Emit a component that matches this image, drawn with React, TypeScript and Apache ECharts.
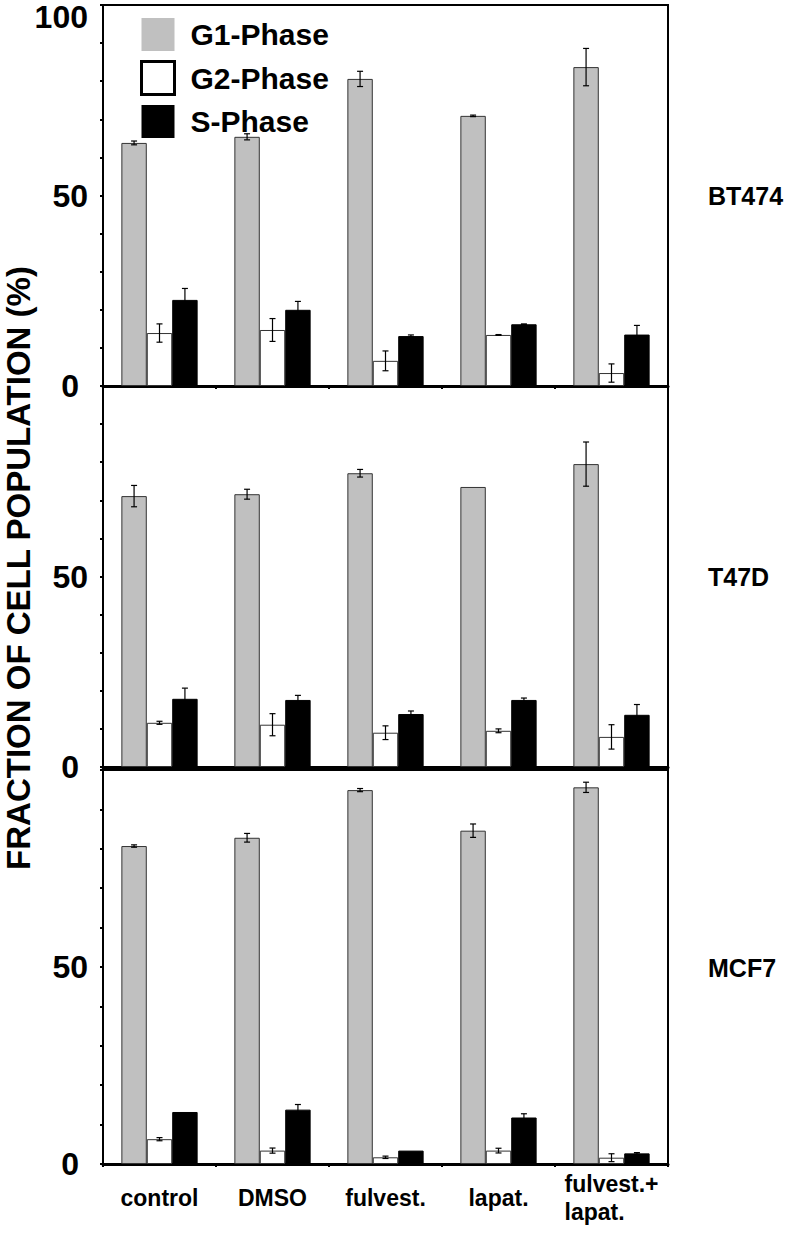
import React, { useEffect, useRef } from "react";
import * as echarts from "echarts";

const categories = ["control", "DMSO", "fulvest.", "lapat.", "fulvest.+\nlapat."];
const cellLines = ["BT474", "T47D", "MCF7"];
const phaseNames = ["G1-Phase", "G2-Phase", "S-Phase"];
const yTickLabels = [0, 50];
const topTickLabel = "100";

// BT474
const bt474G1 = [63.8, 65.4, 80.6, 70.9, 83.7];
const bt474G1Err = [0.5, 0.8, 2.0, 0.2, 4.9];
const bt474G2 = [13.9, 14.7, 6.6, 13.4, 3.4];
const bt474G2Err = [2.4, 3.0, 2.6, 0.1, 2.4];
const bt474S = [22.6, 20.0, 13.1, 16.2, 13.5];
const bt474SErr = [3.0, 2.2, 0.3, 0.1, 2.4];

// T47D
const t47dG1 = [71.1, 71.6, 77.1, 73.5, 79.5];
const t47dG1Err = [2.8, 1.3, 1.0, 0, 5.8];
const t47dG2 = [11.6, 11.1, 9.0, 9.5, 7.9];
const t47dG2Err = [0.4, 2.9, 1.8, 0.5, 3.2];
const t47dS = [17.9, 17.6, 13.9, 17.6, 13.7];
const t47dSErr = [2.8, 1.2, 0.8, 0.5, 2.7];

// MCF7
const mcf7G1 = [80.7, 82.8, 94.9, 84.6, 95.6];
const mcf7G1Err = [0.3, 1.1, 0.4, 1.7, 1.3];
const mcf7G2 = [6.3, 3.4, 1.7, 3.4, 1.6];
const mcf7G2Err = [0.4, 0.65, 0.3, 0.6, 1.0];
const mcf7S = [13.2, 13.8, 3.4, 11.8, 2.7];
const mcf7SErr = [0, 1.3, 0, 0.95, 0.2];

const panels = [
  { values: [bt474G1, bt474G2, bt474S], errors: [bt474G1Err, bt474G2Err, bt474SErr] },
  { values: [t47dG1, t47dG2, t47dS], errors: [t47dG1Err, t47dG2Err, t47dSErr] },
  { values: [mcf7G1, mcf7G2, mcf7S], errors: [mcf7G1Err, mcf7G2Err, mcf7SErr] },
];

const FONT = "'Liberation Sans', Arial, sans-serif";
const BAR_FRAC = 0.225;

const phaseStyles = [
  { color: "#c0c0c0", borderColor: "#333", borderWidth: 1 },
  { color: "#ffffff", borderColor: "#333", borderWidth: 1 },
  { color: "#000000", borderColor: "#000", borderWidth: 1 },
];

export default function App() {
  const ref = useRef<HTMLDivElement>(null);
  useEffect(() => {
    if (!ref.current) return;
    const chart = echarts.init(ref.current, null, { renderer: "svg" });

    const grids = [
      { left: 103, right: 132, top: 5, height: 381 },
      { left: 103, right: 132, top: 386, height: 381 },
      { left: 103, right: 132, top: 770, height: 394 },
    ].map((g) => ({ ...g, show: true, borderColor: "#000", borderWidth: 2, backgroundColor: "transparent" }));

    const xAxes = grids.map((_, i) => ({
      type: "category",
      gridIndex: i,
      data: categories,
      axisLine: { show: true, lineStyle: { color: "#000", width: 3 } },
      axisTick: { show: true, length: 3, lineStyle: { color: "#000", width: 2 } },
      axisLabel:
        i === 2
          ? {
              show: true,
              interval: 0,
              margin: 34,
              verticalAlign: "middle",
              formatter: (v: string) =>
                v
                  .split("\n")
                  .map((s) => "{a|" + s + "}")
                  .join("\n"),
              rich: {
                a: {
                  align: "left",
                  fontFamily: FONT,
                  fontSize: 23,
                  fontWeight: "bold",
                  color: "#000",
                  lineHeight: 28,
                },
              },
            }
          : { show: false },
    }));

    const yAxes = grids.map((_, i) => ({
      type: "value",
      gridIndex: i,
      min: 0,
      max: 100,
      interval: 10,
      axisLine: { show: true, lineStyle: { color: "#000", width: 2 } },
      axisTick: { show: true, length: 3, lineStyle: { color: "#000", width: 2 } },
      splitLine: { show: false },
      axisLabel: {
        show: true,
        margin: 15,
        fontFamily: FONT,
        fontSize: 32,
        fontWeight: "bold",
        color: "#000",
        formatter: (v: number) => {
          if (!yTickLabels.includes(v)) return "";
          if (v === 0) return "{z|0}";
          return String(v);
        },
        rich: {
          z: { padding: [0, 9, 0, 0], fontFamily: FONT, fontSize: 32, fontWeight: "bold", color: "#000" },
        },
      },
    }));

    const series: any[] = [];
    panels.forEach((p, gi) => {
      p.values.forEach((vals, k) => {
        series.push({
          type: "bar",
          name: phaseNames[k],
          xAxisIndex: gi,
          yAxisIndex: gi,
          data: vals,
          barWidth: BAR_FRAC * 100 + "%",
          barGap: "0%",
          itemStyle: phaseStyles[k],
          z: 2,
        });
      });
      const errData: number[][] = [];
      p.values.forEach((vals, k) => {
        vals.forEach((v, c) => {
          const e = p.errors[k][c];
          if (e > 0) errData.push([c, v - e, v + e, k]);
        });
      });
      series.push({
        type: "custom",
        xAxisIndex: gi,
        yAxisIndex: gi,
        data: errData,
        encode: { x: 0, y: [1, 2] },
        z: 5,
        silent: true,
        renderItem: (params: any, api: any) => {
          const c = api.value(0);
          const lo = api.value(1);
          const hi = api.value(2);
          const k = api.value(3);
          const bw = api.size([1, 0])[0] * BAR_FRAC;
          const pLo = api.coord([c, lo]);
          const pHi = api.coord([c, hi]);
          const x = pLo[0] + (k - 1) * bw;
          const cap = 3;
          const st = { stroke: "#000", lineWidth: 1.2 };
          return {
            type: "group",
            children: [
              { type: "line", shape: { x1: x, y1: pLo[1], x2: x, y2: pHi[1] }, style: st },
              { type: "line", shape: { x1: x - cap, y1: pLo[1], x2: x + cap, y2: pLo[1] }, style: st },
              { type: "line", shape: { x1: x - cap, y1: pHi[1], x2: x + cap, y2: pHi[1] }, style: st },
            ],
          };
        },
      });
    });

    const labelYs = [196, 577, 968];

    chart.setOption({
      animation: false,
      backgroundColor: "#fff",
      grid: grids,
      xAxis: xAxes,
      yAxis: yAxes,
      legend: {
        show: true,
        orient: "vertical",
        left: 135,
        top: 13,
        itemWidth: 33,
        itemHeight: 33,
        itemGap: 9,
        selectedMode: false,
        icon: "rect",
        textStyle: { fontFamily: FONT, fontSize: 30, fontWeight: "bold", color: "#000", padding: [0, 0, 0, 11] },
        data: [
          { name: phaseNames[0], itemStyle: { color: "#c0c0c0", borderWidth: 0 } },
          { name: phaseNames[1], itemStyle: { color: "#fff", borderColor: "#000", borderWidth: 3 } },
          { name: phaseNames[2], itemStyle: { color: "#000", borderWidth: 0 } },
        ],
      },
      graphic: [
        {
          type: "text",
          x: 88,
          y: 1,
          style: {
            text: topTickLabel,
            fontFamily: FONT,
            fontSize: 32,
            fontWeight: "bold",
            fill: "#000",
            align: "right",
            verticalAlign: "top",
          },
        },
        {
          type: "text",
          x: 18,
          y: 568,
          rotation: Math.PI / 2,
          style: {
            text: "FRACTION OF CELL POPULATION (%)",
            fontFamily: FONT,
            fontSize: 33,
            fontWeight: "bold",
            fill: "#000",
            align: "center",
            verticalAlign: "middle",
          },
        },
        ...cellLines.map((name, i) => ({
          type: "text",
          x: 708,
          y: labelYs[i],
          style: {
            text: name,
            fontFamily: FONT,
            fontSize: 25,
            fontWeight: "bold",
            fill: "#000",
            align: "left",
            verticalAlign: "middle",
          },
        })),
      ],
      series,
    });
    return () => chart.dispose();
  }, []);
  return <div ref={ref} style={{ position: "absolute", left: 0, top: 0, width: 800, height: 1239 }} />;
}
